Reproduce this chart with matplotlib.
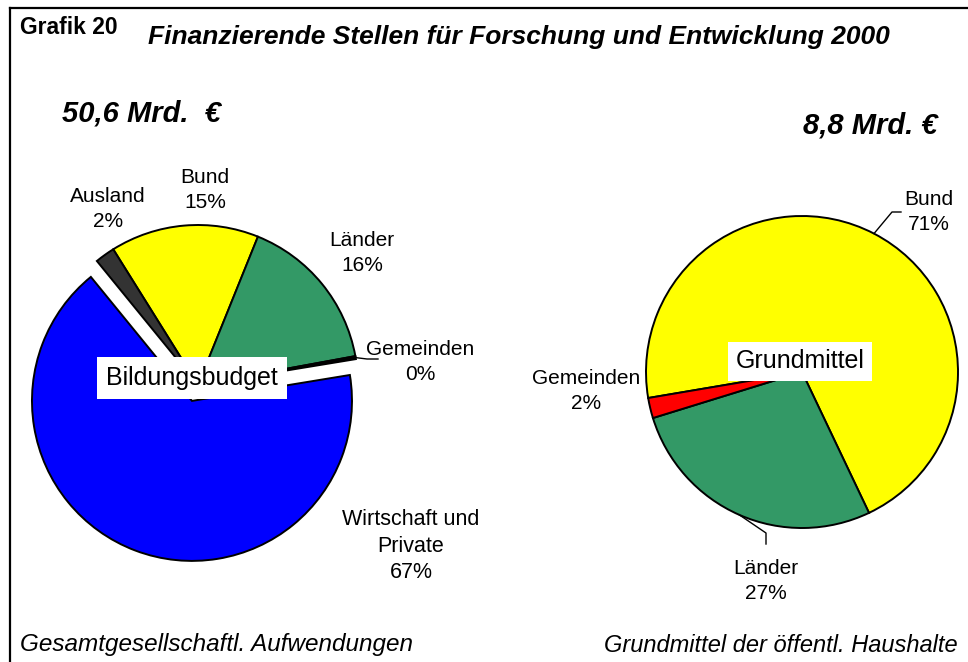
import numpy as np
import matplotlib
matplotlib.use("Agg")
import matplotlib.pyplot as plt

plt.rcParams['font.family'] = ['Liberation Sans', 'DejaVu Sans']

# ---- data ----
left_labels = ["Bund", "Länder", "Gemeinden", "Wirtschaft und\nPrivate", "Ausland"]
left_values = [15.0, 16.0, 0.3, 66.7, 2.0]
left_colors = ["#FFFF00", "#339966", "#000000", "#0000FF", "#333333"]
left_total = "50,6 Mrd.  €"

right_labels = ["Bund", "Länder", "Gemeinden"]
right_values = [70.6, 27.3, 2.1]
right_colors = ["#FFFF00", "#339966", "#FF0000"]
right_total = "8,8 Mrd. €"

W, H = 968, 662
fig = plt.figure(figsize=(W / 100, H / 100), dpi=100)
ax = fig.add_axes([0, 0, 1, 1])

def Y(y):
    return H - y

wp = dict(edgecolor="black", linewidth=1.4)

# explode in matplotlib is in data units (pixels here)
lw, _ = ax.pie(left_values, colors=left_colors, startangle=122, counterclock=False,
               explode=[0, 0, 0, 17, 0], center=(198, Y(385)), radius=160,
               wedgeprops=wp, frame=True)
rw, _ = ax.pie(right_values, colors=right_colors, startangle=189.6, counterclock=False,
               center=(802, Y(372)), radius=156, wedgeprops=wp, frame=True)

ax.set_xlim(0, W)
ax.set_ylim(0, H)
ax.set_aspect('equal')
ax.axis('off')

def pct(v):
    return f"{int(round(v))}%"

fs = 15
ls = 1.35
# left labels
ax.text(205, Y(190), f"{left_labels[0]}\n{pct(left_values[0])}", ha="center", va="center", fontsize=fs, linespacing=ls)
ax.text(362, Y(253), f"{left_labels[1]}\n{pct(left_values[1])}", ha="center", va="center", fontsize=fs, linespacing=ls)
ax.text(420, Y(362), f"{left_labels[2]}\n{pct(left_values[2])}", ha="center", va="center", fontsize=fs, linespacing=ls)
ax.text(411, Y(546), f"{left_labels[3]}\n{pct(left_values[3])}", ha="center", va="center", fontsize=15.5, linespacing=ls)
ax.text(108, Y(209), f"{left_labels[4]}\n{pct(left_values[4])}", ha="center", va="center", fontsize=fs, linespacing=ls)

# right labels
ax.text(929, Y(212), f"{right_labels[0]}\n{pct(right_values[0])}", ha="center", va="center", fontsize=fs, linespacing=ls)
ax.text(766, Y(581), f"{right_labels[1]}\n{pct(right_values[1])}", ha="center", va="center", fontsize=fs, linespacing=ls)
ax.text(586, Y(391), f"{right_labels[2]}\n{pct(right_values[2])}", ha="center", va="center", fontsize=fs, linespacing=ls)

def edge_point(w):
    m = np.deg2rad((w.theta1 + w.theta2) / 2)
    cx, cy = w.center
    return cx + w.r * np.cos(m), cy + w.r * np.sin(m)

# leader lines
x0, y0 = edge_point(lw[2])
ax.plot([x0, 367, 378], [y0, Y(359), Y(359)], color="black", lw=1.0)
x0, y0 = edge_point(rw[0])
ax.plot([x0, 892, 901], [y0, Y(212), Y(212)], color="black", lw=1.0)
x0, y0 = edge_point(rw[1])
ax.plot([x0, 766, 766], [y0, Y(533), Y(544)], color="black", lw=1.0)

# center boxes
ax.text(192, Y(378), "Bildungsbudget", ha="center", va="center", fontsize=18,
        bbox=dict(boxstyle="square,pad=0.35", facecolor="white", edgecolor="none"))
ax.text(800, Y(361), "Grundmittel", ha="center", va="center", fontsize=18,
        bbox=dict(boxstyle="square,pad=0.3", facecolor="white", edgecolor="none"))

# titles
ax.text(20, Y(28), "Grafik 20", ha="left", va="center", fontsize=16.5, fontweight="bold")
ax.text(148, Y(37), "Finanzierende Stellen für Forschung und Entwicklung 2000", ha="left", va="center",
        fontsize=19, fontweight="bold", fontstyle="italic")
ax.text(62, Y(113), left_total, ha="left", va="center", fontsize=21, fontweight="bold", fontstyle="italic")
ax.text(938, Y(125), right_total, ha="right", va="center", fontsize=21, fontweight="bold", fontstyle="italic")

ax.text(20, Y(645), "Gesamtgesellschaftl. Aufwendungen", ha="left", va="center", fontsize=17.5, fontstyle="italic")
ax.text(958, Y(645), "Grundmittel der öffentl. Haushalte", ha="right", va="center", fontsize=17, fontstyle="italic")

# frame
ax.plot([10, 10], [0, Y(7.5)], color="black", lw=1.6, solid_capstyle="projecting")
ax.plot([10, W], [Y(7.5), Y(7.5)], color="black", lw=1.6, solid_capstyle="projecting")

fig.savefig("out.png", dpi=100, facecolor="white")
